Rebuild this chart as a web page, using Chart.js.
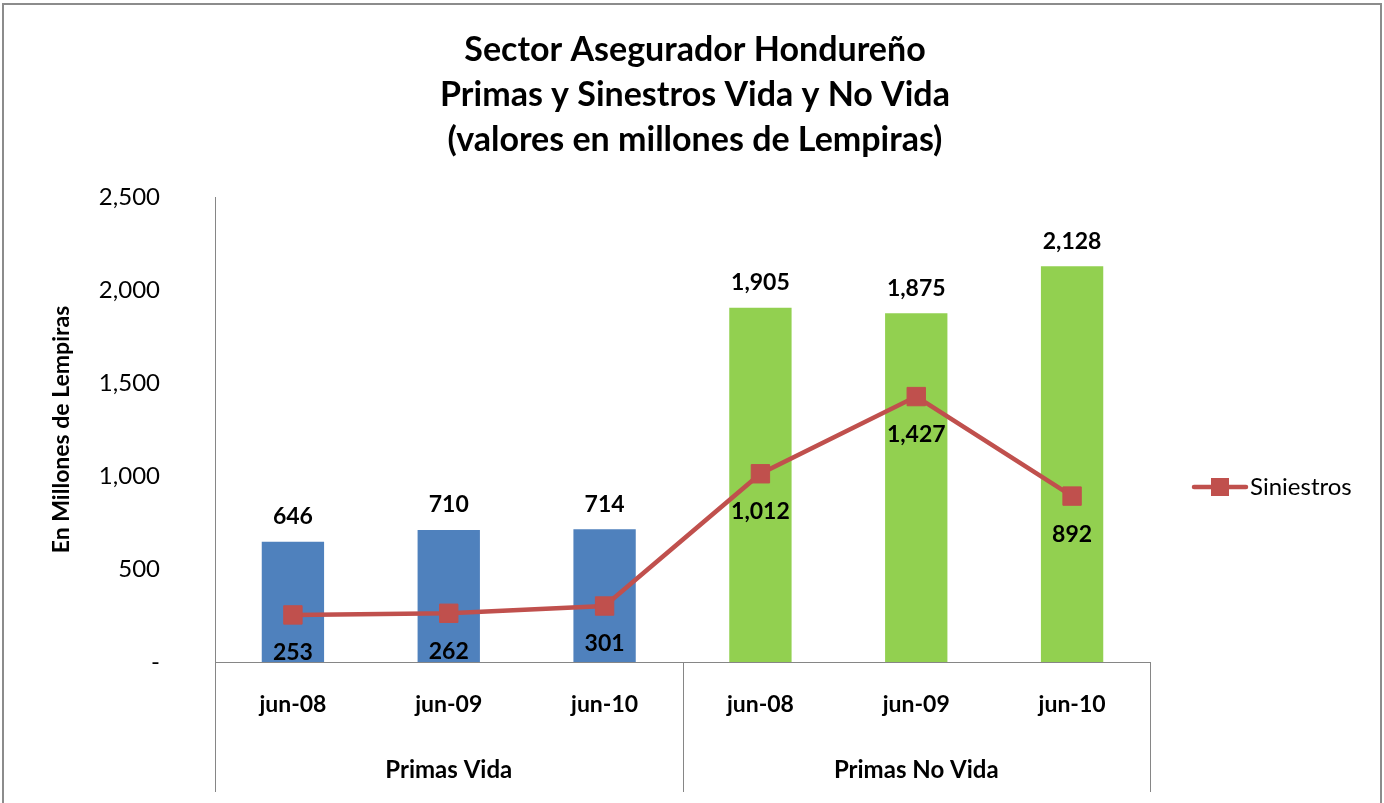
<!DOCTYPE html>
<html><head><meta charset="utf-8">
<script src="https://cdn.jsdelivr.net/npm/chart.js@4.4.1/dist/chart.umd.min.js"></script>
<style>html,body{margin:0;padding:0;background:#fff}#wrap{width:1384px;height:803px;position:relative}canvas{display:block}</style>
</head><body><div id="wrap"><canvas id="c" width="1384" height="803"></canvas></div>
<script>
const titleLines = ['Sector Asegurador Hondureño', 'Primas y Sinestros Vida y No Vida', '(valores en millones de Lempiras)'];
const yAxisTitle = 'En Millones de Lempiras';
const categories = ['jun-08', 'jun-09', 'jun-10', 'jun-08', 'jun-09', 'jun-10'];
const groups = ['Primas Vida', 'Primas No Vida'];
const groupSizes = [3, 3];
const primas = [646, 710, 714, 1905, 1875, 2128];
const siniestros = [253, 262, 301, 1012, 1427, 892];
const lineName = 'Siniestros';
const yMin = 0, yMax = 2500, yStep = 500;

const BLUE = '#4F81BD', GREEN = '#92D050', RED = '#C0504D', AXIS = '#868686';
const FONT = 'Lato, Carlito, Calibri, sans-serif';
const barColors = [];
groupSizes.forEach((n, g) => { for (let i = 0; i < n; i++) barColors.push(g === 0 ? BLUE : GREEN); });
const fmt = v => v === 0 ? '-' : v.toLocaleString('en-US');

const deco = {
  id: 'deco',
  afterDraw(chart) {
    const ctx = chart.ctx, ca = chart.chartArea;
    const xs = chart.scales.x;
    ctx.save();
    // outer border
    ctx.strokeStyle = '#8c8c8c'; ctx.lineWidth = 2;
    ctx.strokeRect(3, 4, 1378, 900);
    // title
    ctx.fillStyle = '#000'; ctx.textAlign = 'center'; ctx.textBaseline = 'middle';
    ctx.font = 'bold 34px ' + FONT;
    titleLines.forEach((t, i) => ctx.fillText(t, 695, 50 + i * 45));
    // y title
    ctx.save();
    ctx.translate(62, (ca.top + ca.bottom) / 2);
    ctx.rotate(-Math.PI / 2);
    ctx.font = 'bold 23px ' + FONT;
    ctx.fillText(yAxisTitle, 0, 0);
    ctx.restore();
    // value labels
    const barMeta = chart.getDatasetMeta(1);
    ctx.font = 'bold 23px ' + FONT;
    barMeta.data.forEach((el, i) => ctx.fillText(fmt(primas[i]), el.x, el.y - 25));
    const lineMeta = chart.getDatasetMeta(0);
    lineMeta.data.forEach((el, i) => ctx.fillText(fmt(siniestros[i]), el.x, el.y + 38));
    // multi-level category axis
    ctx.strokeStyle = AXIS; ctx.lineWidth = 1;
    const step = (ca.right - ca.left) / categories.length;
    let idx = 0;
    const bounds = [ca.left];
    groupSizes.forEach(n => { idx += n; bounds.push(ca.left + idx * step); });
    bounds.forEach(bx => {
      const x = Math.round(bx) + 0.5;
      ctx.beginPath(); ctx.moveTo(x, ca.bottom); ctx.lineTo(x, 792); ctx.stroke();
    });
    ctx.font = 'bold 23px ' + FONT;
    categories.forEach((c, i) => ctx.fillText(c, xs.getPixelForValue(i), 705));
    ctx.font = 'bold 24px ' + FONT;
    idx = 0;
    groups.forEach((g, gi) => {
      const cx = ca.left + (idx + groupSizes[gi] / 2) * step;
      ctx.fillText(g, cx, 770);
      idx += groupSizes[gi];
    });
    // legend
    const ly = 487;
    ctx.strokeStyle = RED; ctx.lineWidth = 4.5; ctx.lineCap = 'round';
    ctx.beginPath(); ctx.moveTo(1194, ly); ctx.lineTo(1246, ly); ctx.stroke();
    ctx.fillStyle = RED; ctx.fillRect(1211, ly - 9, 18, 18);
    ctx.fillStyle = '#000'; ctx.textAlign = 'left';
    ctx.font = '24px ' + FONT;
    ctx.fillText(lineName, 1250, ly);
    ctx.restore();
  }
};

new Chart(document.getElementById('c'), {
  type: 'bar',
  data: {
    labels: categories,
    datasets: [
      { type: 'line', label: lineName, data: siniestros, order: 1,
        borderColor: RED, backgroundColor: RED, borderWidth: 4.5,
        pointStyle: 'rect', pointRadius: 13, pointHoverRadius: 13, pointBorderWidth: 1, tension: 0 },
      { type: 'bar', label: 'Primas', data: primas, order: 2,
        backgroundColor: barColors, borderWidth: 0, categoryPercentage: 1, barPercentage: 0.4 }
    ]
  },
  options: {
    responsive: false, animation: false, devicePixelRatio: 1,
    layout: { padding: { left: 0, right: 234, top: 197, bottom: 0 } },
    plugins: { legend: { display: false }, tooltip: { enabled: false }, title: { display: false } },
    scales: {
      x: {
        grid: { display: false }, ticks: { display: false },
        border: { display: true, color: AXIS, width: 1 },
        afterFit: s => { s.height = 803 - 662; }
      },
      y: {
        min: yMin, max: yMax,
        grid: { display: false, drawTicks: false },
        border: { display: true, color: AXIS, width: 1 },
        ticks: { stepSize: yStep, padding: 55, color: '#000', font: { family: FONT, size: 24 }, callback: v => fmt(v) },
        afterFit: s => { s.width = 215; }
      }
    }
  },
  plugins: [deco]
});
</script>
</body></html>
